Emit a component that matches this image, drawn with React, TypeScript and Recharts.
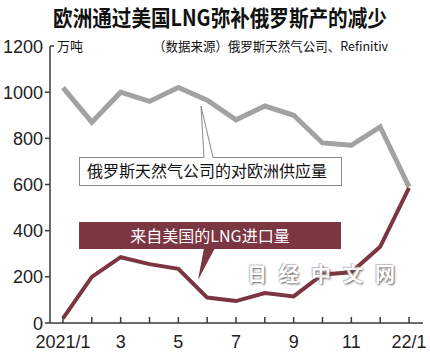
import React from "react";
import { LineChart, Line, XAxis, YAxis } from "recharts";

const months = ["2021/1", "2", "3", "4", "5", "6", "7", "8", "9", "10", "11", "12", "22/1"];
const gazpromSupply = [1020, 870, 1000, 960, 1020, 965, 880, 940, 900, 780, 770, 850, 590];
const usLngImports = [20, 200, 285, 255, 235, 110, 95, 130, 115, 210, 220, 330, 585];
const yTicks = [0, 200, 400, 600, 800, 1000, 1200];

const data = months.map((m, i) => ({ month: m, gazprom: gazpromSupply[i], lng: usLngImports[i] }));

const CJK = "'Noto Sans CJK SC', 'Noto Sans', sans-serif";
const NUM = "'Liberation Sans', Arial, sans-serif";
const AXIS = "#3a3a3a";
const GRAY = "#a2a2a2";
const RED = "#7b3641";

function XTick(props: any) {
  const { x, y, payload, index } = props;
  return (
    <g>
      <line x1={x} x2={x} y1={y} y2={y - 6} stroke={AXIS} strokeWidth={1.5} />
      {index % 2 === 0 && (
        <text x={x} y={y + 25} textAnchor="middle" fontSize={18} fontFamily={NUM} fill="#222">
          {payload.value}
        </text>
      )}
    </g>
  );
}

function YTick(props: any) {
  const { x, y, payload } = props;
  const top = payload.value === 1200;
  return (
    <g>
      <line x1={x} x2={top ? x + 4 : x - 5} y1={y} y2={y} stroke={AXIS} strokeWidth={1.5} />
      <text x={x - 7} y={y + 6.5} textAnchor="end" fontSize={18} fontFamily={NUM} fill="#222">
        {payload.value}
      </text>
    </g>
  );
}

export default function App() {
  return (
    <div style={{ position: "absolute", left: 0, top: 0, width: 430, height: 357, background: "#fff" }}>
      <LineChart width={430} height={357} data={data} margin={{ top: 46, right: 7, left: 0, bottom: 0 }}>
        <XAxis
          dataKey="month"
          interval={0}
          height={34}
          padding={{ left: 13, right: 14 }}
          tickLine={false}
          tickSize={0}
          tickMargin={0}
          tick={<XTick />}
          axisLine={{ stroke: AXIS, strokeWidth: 1.5 }}
        />
        <YAxis
          width={50}
          domain={[0, 1200]}
          ticks={yTicks}
          tickLine={false}
          tickSize={0}
          tickMargin={0}
          tick={<YTick />}
          axisLine={{ stroke: AXIS, strokeWidth: 1.5 }}
        />
        <Line dataKey="gazprom" stroke={GRAY} strokeWidth={5} dot={false} isAnimationActive={false} strokeLinejoin="miter" />
        <Line dataKey="lng" stroke={RED} strokeWidth={4} dot={false} isAnimationActive={false} strokeLinejoin="miter" />
      </LineChart>

      <svg width={430} height={357} style={{ position: "absolute", left: 0, top: 0, pointerEvents: "none" }}>
        {/* gray callout */}
        <rect x={79.5} y={157.5} width={262} height={28} fill="#fff" stroke="#8a8a8a" strokeWidth={1} />
        <polygon points="201,106 204,158 213,158" fill="#fff" />
        <polyline points="204,157.5 201,106 213,157.5" fill="none" stroke="#8a8a8a" strokeWidth={1} />
        <text x={207} y={177} textAnchor="middle" fontSize={16} fontFamily={CJK} fill="#111">
          俄罗斯天然气公司的对欧洲供应量
        </text>
        {/* red callout */}
        <rect x={79} y={222} width={262} height={27} fill={RED} />
        <polygon points="204,248 215,248 198,280" fill={RED} />
        <text x={210} y={242} textAnchor="middle" fontSize={16} fontFamily={CJK} fill="#fff">
          来自美国的LNG进口量
        </text>
      </svg>

      <div
        style={{
          position: "absolute",
          left: 0,
          top: 3,
          width: 440,
          textAlign: "center",
          fontFamily: CJK,
          fontWeight: 700,
          fontSize: 22,
          lineHeight: "26px",
          color: "#111",
          transform: "scaleX(0.89)",
          transformOrigin: "220px 0",
        }}
      >
        欧洲通过美国LNG弥补俄罗斯产的减少
      </div>
      <div style={{ position: "absolute", left: 57, top: 37, fontFamily: CJK, fontSize: 13, lineHeight: "18px", color: "#111" }}>
        万吨
      </div>
      <div
        style={{
          position: "absolute",
          left: 153,
          top: 37,
          fontFamily: CJK,
          fontSize: 13,
          lineHeight: "18px",
          color: "#111",
          transform: "scaleX(0.96)",
          transformOrigin: "0 0",
        }}
      >
        （数据来源）俄罗斯天然气公司、Refinitiv
      </div>
      <div
        style={{
          position: "absolute",
          left: 247,
          top: 262,
          fontFamily: CJK,
          fontWeight: 700,
          fontSize: 20,
          lineHeight: "24px",
          letterSpacing: 12,
          color: "#fff",
          textShadow: "1px 1px 2px #555, -1px -1px 1px #bbb",
          opacity: 0.9,
        }}
      >
        日经中文网
      </div>
    </div>
  );
}
